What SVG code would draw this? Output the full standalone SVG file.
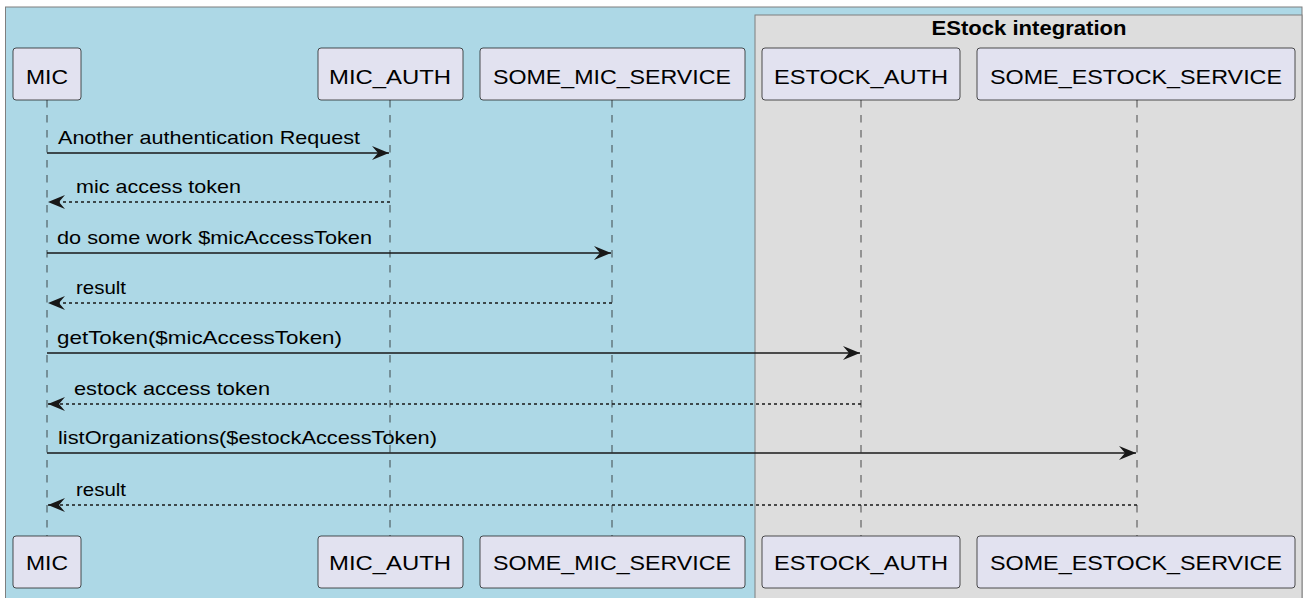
<svg xmlns="http://www.w3.org/2000/svg" width="1306" height="598" viewBox="0 0 1306 598">
<style>
.p rect{fill:#E2E2F0;stroke:#181818;stroke-width:0.75}
.p text{font-family:"Liberation Sans",Arial,sans-serif;font-size:21px;fill:#000;text-anchor:middle}
.ll{stroke:#181818;stroke-width:0.75;stroke-dasharray:7.5,7.5;fill:none}
.m{stroke:#181818;stroke-width:1.5;fill:none}
.r{stroke:#181818;stroke-width:1.5;fill:none;stroke-dasharray:3,3}
.lbl{font-family:"Liberation Sans",Arial,sans-serif;font-size:19px;fill:#000}
</style>
<defs>
<marker id="ah" markerUnits="userSpaceOnUse" markerWidth="20" markerHeight="16" refX="17" refY="7" orient="auto">
<polygon points="0,0 17,7 0,14 6,7" fill="#181818"/>
</marker>
</defs>
<rect x="0" y="0" width="1306" height="598" fill="#ffffff"/>
<rect x="5.5" y="7" width="1296.5" height="600" fill="#ADD8E6" stroke="#7f7f7f" stroke-width="1"/>
<g id="estock-box">
<rect x="755" y="15" width="547" height="600" fill="#DDDDDD" stroke="#7f7f7f" stroke-width="1"/>
<text x="1029" y="35" font-family="'Liberation Sans',Arial,sans-serif" font-size="19.5" font-weight="bold" text-anchor="middle" textLength="195" lengthAdjust="spacingAndGlyphs">EStock integration</text>
</g>
<g id="lifelines">
<line class="ll" x1="47" y1="100" x2="47" y2="536"/>
<line class="ll" x1="390" y1="100" x2="390" y2="536"/>
<line class="ll" x1="612" y1="100" x2="612" y2="536"/>
<line class="ll" x1="861" y1="100" x2="861" y2="536"/>
<line class="ll" x1="1137" y1="100" x2="1137" y2="536"/>
</g>
<g id="MIC" class="p">
<rect x="13" y="48" width="68" height="52" rx="3"/><text x="47" y="84" textLength="42" lengthAdjust="spacingAndGlyphs">MIC</text>
<rect x="13" y="536" width="68" height="52" rx="3"/><text x="47" y="570" textLength="42" lengthAdjust="spacingAndGlyphs">MIC</text>
</g>
<g id="MIC_AUTH" class="p">
<rect x="318" y="48" width="145" height="52" rx="3"/><text x="390" y="84" textLength="122" lengthAdjust="spacingAndGlyphs">MIC_AUTH</text>
<rect x="318" y="536" width="145" height="52" rx="3"/><text x="390" y="570" textLength="122" lengthAdjust="spacingAndGlyphs">MIC_AUTH</text>
</g>
<g id="SOME_MIC_SERVICE" class="p">
<rect x="480" y="48" width="265" height="52" rx="3"/><text x="612" y="84" textLength="238" lengthAdjust="spacingAndGlyphs">SOME_MIC_SERVICE</text>
<rect x="480" y="536" width="265" height="52" rx="3"/><text x="612" y="570" textLength="238" lengthAdjust="spacingAndGlyphs">SOME_MIC_SERVICE</text>
</g>
<g id="ESTOCK_AUTH" class="p">
<rect x="762" y="48" width="198" height="52" rx="3"/><text x="861" y="84" textLength="174" lengthAdjust="spacingAndGlyphs">ESTOCK_AUTH</text>
<rect x="762" y="536" width="198" height="52" rx="3"/><text x="861" y="570" textLength="174" lengthAdjust="spacingAndGlyphs">ESTOCK_AUTH</text>
</g>
<g id="SOME_ESTOCK_SERVICE" class="p">
<rect x="977" y="48" width="318" height="52" rx="3"/><text x="1136" y="84" textLength="292" lengthAdjust="spacingAndGlyphs">SOME_ESTOCK_SERVICE</text>
<rect x="977" y="536" width="318" height="52" rx="3"/><text x="1136" y="570" textLength="292" lengthAdjust="spacingAndGlyphs">SOME_ESTOCK_SERVICE</text>
</g>
<g id="connectors">
<line class="m" x1="47" y1="153" x2="389" y2="153" marker-end="url(#ah)"/>
<text class="lbl" x="58" y="144" textLength="302" lengthAdjust="spacingAndGlyphs">Another authentication Request</text>
<line class="r" x1="390" y1="202" x2="48" y2="202" marker-end="url(#ah)"/>
<text class="lbl" x="76" y="193" textLength="165" lengthAdjust="spacingAndGlyphs">mic access token</text>
<line class="m" x1="47" y1="253" x2="611" y2="253" marker-end="url(#ah)"/>
<text class="lbl" x="57" y="244" textLength="315" lengthAdjust="spacingAndGlyphs">do some work $micAccessToken</text>
<line class="r" x1="612" y1="303" x2="48" y2="303" marker-end="url(#ah)"/>
<text class="lbl" x="76" y="294" textLength="50" lengthAdjust="spacingAndGlyphs">result</text>
<line class="m" x1="47" y1="353" x2="860" y2="353" marker-end="url(#ah)"/>
<text class="lbl" x="57" y="344" textLength="285" lengthAdjust="spacingAndGlyphs">getToken($micAccessToken)</text>
<line class="r" x1="861" y1="404" x2="48" y2="404" marker-end="url(#ah)"/>
<text class="lbl" x="74" y="395" textLength="196" lengthAdjust="spacingAndGlyphs">estock access token</text>
<line class="m" x1="47" y1="453" x2="1136" y2="453" marker-end="url(#ah)"/>
<text class="lbl" x="58" y="444" textLength="379" lengthAdjust="spacingAndGlyphs">listOrganizations($estockAccessToken)</text>
<line class="r" x1="1137" y1="505" x2="48" y2="505" marker-end="url(#ah)"/>
<text class="lbl" x="76" y="496" textLength="50" lengthAdjust="spacingAndGlyphs">result</text>
</g>
</svg>
